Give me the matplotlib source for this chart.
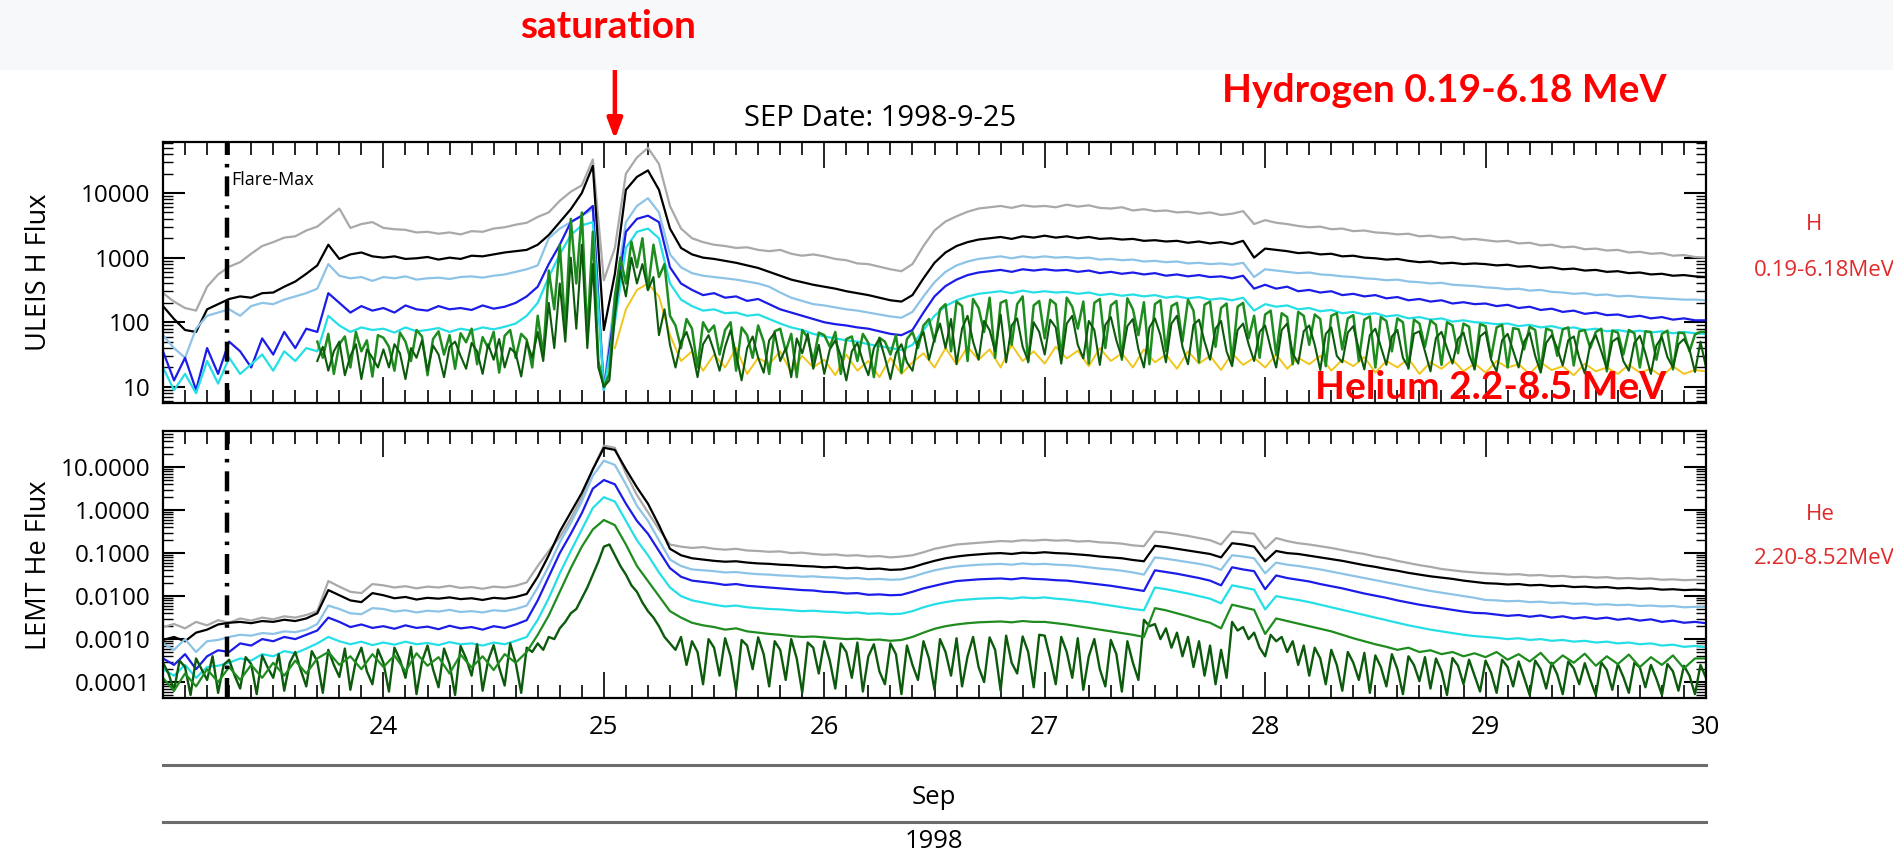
import numpy as np
import matplotlib
matplotlib.use("Agg")
import matplotlib.pyplot as plt
from matplotlib.lines import Line2D
from matplotlib.patches import Rectangle
from matplotlib.ticker import FixedLocator, FuncFormatter, LogLocator, MultipleLocator

# ---- flux channels, log10 values, one string per day (Sep 23 .. Sep 29), last value = Sep 30 00:00 ----
# ULEIS hydrogen
h_grey = [
    "2.45 2.32 2.22 2.18 2.55 2.74 2.86 2.93 3.06 3.18 3.24 3.31 3.33 3.42 3.48 3.62 3.76 3.46 3.52 3.55",
    "3.46 3.44 3.43 3.39 3.40 3.37 3.39 3.36 3.41 3.40 3.45 3.47 3.51 3.54 3.63 3.70 3.88 4.02 4.12 4.52",
    "2.65 3.15 4.30 4.55 4.70 4.45 3.80 3.45 3.30 3.24 3.20 3.18 3.15 3.16 3.12 3.10 3.12 3.06 3.03 3.05",
    "3.02 2.98 2.96 2.91 2.90 2.86 2.82 2.79 2.90 3.18 3.42 3.56 3.64 3.71 3.76 3.78 3.80 3.77 3.81 3.79",
    "3.80 3.78 3.82 3.79 3.81 3.77 3.76 3.78 3.73 3.75 3.72 3.73 3.70 3.71 3.68 3.70 3.66 3.68 3.72 3.52",
    "3.58 3.54 3.52 3.49 3.47 3.48 3.44 3.45 3.41 3.42 3.39 3.38 3.36 3.37 3.33 3.34 3.31 3.32 3.28 3.29",
    "3.27 3.25 3.26 3.22 3.23 3.19 3.20 3.16 3.17 3.13 3.14 3.11 3.12 3.08 3.09 3.06 3.07 3.03 3.04 3.01",
]
h_grey_end = 3.00
h_black = [
    "2.25 2.05 1.88 1.85 2.20 2.28 2.36 2.40 2.38 2.45 2.46 2.55 2.63 2.75 2.88 3.20 2.98 3.05 3.08 3.02",
    "3.00 3.02 2.98 2.99 3.01 2.97 3.00 2.98 3.03 3.02 3.05 3.08 3.10 3.12 3.20 3.35 3.55 3.75 4.00 4.42",
    "1.88 2.75 4.05 4.25 4.35 4.05 3.45 3.15 3.05 3.00 2.98 2.95 2.92 2.88 2.84 2.78 2.72 2.66 2.62 2.58",
    "2.55 2.52 2.48 2.45 2.42 2.38 2.34 2.32 2.42 2.68 2.92 3.08 3.18 3.24 3.28 3.30 3.32 3.29 3.33 3.31",
    "3.34 3.31 3.33 3.30 3.32 3.29 3.30 3.28 3.29 3.26 3.27 3.25 3.26 3.23 3.25 3.22 3.24 3.21 3.26 3.00",
    "3.14 3.12 3.10 3.07 3.08 3.05 3.06 3.02 3.03 3.00 2.99 2.97 2.98 2.95 2.93 2.94 2.91 2.92 2.90 2.91",
    "2.90 2.88 2.89 2.86 2.87 2.84 2.85 2.82 2.83 2.80 2.81 2.78 2.79 2.76 2.77 2.74 2.75 2.72 2.73 2.71",
]
h_black_end = 2.70
h_lightblue = [
    "1.80 1.60 1.45 1.90 2.10 2.15 2.20 2.10 2.25 2.30 2.28 2.35 2.40 2.45 2.52 2.90 2.72 2.68 2.70 2.64",
    "2.70 2.68 2.71 2.66 2.68 2.69 2.67 2.70 2.71 2.69 2.72 2.74 2.78 2.82 2.88 3.30 3.45 3.55 3.65 3.75",
    "1.00 2.40 3.55 3.80 3.92 3.70 3.05 2.85 2.76 2.72 2.70 2.68 2.66 2.63 2.60 2.55 2.46 2.38 2.33 2.28",
    "2.26 2.23 2.20 2.18 2.15 2.12 2.09 2.07 2.16 2.40 2.62 2.78 2.88 2.94 2.98 3.00 3.02 2.99 3.02 3.00",
    "3.02 3.00 3.01 2.99 3.00 2.97 2.98 2.96 2.97 2.94 2.95 2.93 2.94 2.91 2.92 2.90 2.91 2.89 2.92 2.70",
    "2.82 2.80 2.78 2.76 2.77 2.74 2.73 2.71 2.70 2.68 2.67 2.65 2.66 2.63 2.62 2.60 2.61 2.58 2.57 2.56",
    "2.54 2.53 2.51 2.52 2.49 2.50 2.47 2.46 2.44 2.45 2.42 2.43 2.40 2.41 2.39 2.38 2.37 2.36 2.35 2.35",
]
h_lightblue_end = 2.34
h_blue = [
    "1.55 1.10 1.45 0.95 1.60 1.20 1.70 1.55 1.30 1.75 1.50 1.85 1.60 1.90 1.85 2.45 2.30 2.15 2.25 2.18",
    "2.22 2.15 2.26 2.20 2.18 2.25 2.20 2.22 2.19 2.26 2.21 2.24 2.30 2.40 2.55 2.90 3.20 3.55 3.65 3.80",
    "0.95 2.20 3.40 3.60 3.65 3.55 2.85 2.60 2.50 2.42 2.45 2.38 2.40 2.33 2.36 2.28 2.20 2.15 2.10 2.05",
    "2.00 1.97 1.95 1.92 1.90 1.86 1.82 1.80 1.88 2.15 2.40 2.56 2.66 2.73 2.77 2.79 2.81 2.78 2.82 2.80",
    "2.82 2.80 2.81 2.78 2.80 2.76 2.78 2.75 2.77 2.74 2.76 2.72 2.74 2.71 2.73 2.70 2.71 2.68 2.72 2.52",
    "2.58 2.52 2.55 2.48 2.50 2.46 2.48 2.42 2.44 2.40 2.42 2.37 2.39 2.34 2.36 2.32 2.34 2.29 2.31 2.28",
    "2.29 2.25 2.27 2.22 2.24 2.19 2.21 2.16 2.18 2.13 2.15 2.11 2.12 2.08 2.10 2.06 2.08 2.04 2.06 2.03",
]
h_blue_end = 2.03
h_cyan = [
    "1.30 0.95 1.20 0.90 1.40 1.05 1.45 1.20 1.35 1.50 1.25 1.55 1.40 1.60 1.55 2.10 1.95 1.85 1.92 1.88",
    "1.90 1.84 1.92 1.86 1.88 1.91 1.85 1.90 1.87 1.92 1.89 1.93 1.98 2.10 2.30 2.70 3.05 3.35 3.50 3.55",
    "0.95 2.00 3.15 3.40 3.45 3.30 2.60 2.35 2.25 2.18 2.20 2.14 2.15 2.10 2.12 2.05 1.98 1.92 1.88 1.82",
    "1.78 1.75 1.72 1.70 1.66 1.63 1.60 1.57 1.65 1.88 2.10 2.25 2.34 2.40 2.44 2.46 2.48 2.45 2.49 2.46",
    "2.48 2.46 2.47 2.44 2.46 2.42 2.44 2.41 2.43 2.40 2.42 2.38 2.40 2.37 2.39 2.35 2.37 2.34 2.38 2.18",
    "2.28 2.24 2.26 2.20 2.22 2.17 2.19 2.14 2.16 2.12 2.14 2.09 2.11 2.06 2.08 2.04 2.06 2.01 2.03 2.00",
    "1.99 1.97 1.98 1.94 1.96 1.92 1.94 1.90 1.92 1.88 1.90 1.86 1.88 1.85 1.87 1.84 1.86 1.83 1.85 1.83",
]
h_cyan_end = 1.82
h_green = [
    "nan nan nan nan nan nan nan nan nan nan nan nan nan nan nan nan nan nan nan nan "
    "nan nan nan nan nan nan nan nan 1.70 1.45 1.82 1.20 1.66 1.78 1.30 1.85 1.55 1.72 1.16 1.80",
    "1.76 1.62 1.25 1.84 1.70 1.40 1.88 1.78 1.18 1.74 1.86 1.50 1.80 1.28 1.83 1.69 1.90 1.35 1.77 1.60 "
    "1.85 1.22 1.79 1.88 1.45 1.82 1.73 1.30 2.10 1.50 2.80 2.20 3.20 1.90 3.60 2.60 3.70 1.80 3.40 1.40",
    "1.00 1.20 2.40 3.00 2.60 3.25 2.85 3.30 2.50 3.20 2.70 2.90 2.10 1.95 1.60 2.05 1.90 1.30 2.00 1.85 "
    "1.95 1.50 1.88 2.00 1.25 1.92 1.80 1.45 1.95 1.70 1.20 1.86 1.90 1.55 1.82 1.15 1.88 1.76 1.40 1.84",
    "1.80 1.62 1.85 1.20 1.74 1.78 1.40 1.82 1.68 1.15 1.76 1.70 1.50 1.80 1.22 1.74 1.85 1.60 1.95 2.05 "
    "1.70 2.20 2.28 1.55 2.32 2.25 1.40 2.36 2.22 1.85 2.38 1.45 2.30 2.34 1.65 2.28 2.40 1.38 2.26 2.33",
    "1.75 2.35 2.28 1.45 2.38 2.24 1.90 2.32 1.36 2.30 2.36 1.60 2.26 2.33 1.42 2.37 2.20 1.80 2.31 1.35 "
    "2.28 2.34 1.55 2.25 2.30 1.70 2.35 2.18 1.38 2.27 2.32 1.62 2.22 2.29 1.40 2.24 2.30 1.75 2.10 1.45",
    "2.12 2.18 1.50 2.14 2.08 1.35 2.16 2.10 1.65 2.12 2.05 1.32 2.10 2.14 1.58 2.06 2.11 1.40 2.04 2.09 "
    "1.30 2.08 2.02 1.55 2.06 2.00 1.28 2.04 1.98 1.62 2.03 1.96 1.34 2.00 1.95 1.52 1.98 1.93 1.27 1.97",
    "1.94 1.45 1.92 1.96 1.30 1.91 1.89 1.58 1.93 1.88 1.26 1.90 1.87 1.48 1.89 1.92 1.33 1.86 1.88 1.60 "
    "1.85 1.90 1.24 1.87 1.84 1.50 1.88 1.83 1.30 1.86 1.85 1.42 1.82 1.87 1.27 1.84 1.83 1.55 1.81 1.85",
]
h_green_end = 1.85
h_dkgreen = [
    "nan nan nan nan nan nan nan nan nan nan nan nan nan nan nan nan nan nan nan nan "
    "nan nan nan nan nan nan nan nan 1.40 1.62 1.25 1.55 1.70 1.18 1.48 1.66 1.12 1.58 1.45 1.30",
    "1.58 1.30 1.66 1.52 1.12 1.60 1.45 1.72 1.25 1.64 1.50 1.15 1.62 1.70 1.48 1.28 1.68 1.55 1.20 1.66 "
    "1.42 1.74 1.30 1.60 1.52 1.16 1.70 1.45 1.85 1.40 2.30 1.60 2.60 1.70 3.00 1.90 3.20 1.60 2.90 1.30",
    "1.00 1.10 2.10 2.80 2.40 3.00 2.60 2.90 2.50 2.70 1.80 2.20 1.65 1.30 1.70 1.85 1.58 1.15 1.66 1.80 "
    "1.55 1.25 1.62 1.88 1.50 1.10 1.60 1.78 1.45 1.22 1.72 1.84 1.40 1.60 1.15 1.75 1.52 1.82 1.28 1.65",
    "1.20 1.58 1.72 1.48 1.10 1.55 1.68 1.40 1.18 1.60 1.75 1.45 1.12 1.52 1.66 1.38 1.25 1.70 1.85 1.42 "
    "1.75 1.98 1.60 2.05 1.35 1.90 2.10 1.70 1.42 2.02 1.88 1.55 2.12 1.38 1.95 2.06 1.62 1.40 2.00 1.85",
    "1.50 2.04 1.92 1.36 1.98 2.10 1.65 1.44 2.02 1.88 1.34 1.96 2.08 1.72 1.45 1.94 2.05 1.58 1.30 1.92 "
    "2.06 1.80 1.38 1.98 2.10 1.62 1.35 1.96 2.04 1.70 1.42 1.90 2.02 1.55 1.32 1.88 1.98 1.66 1.40 1.85",
    "1.95 1.60 1.30 1.88 1.98 1.52 1.36 1.86 1.95 1.65 1.26 1.82 1.92 1.48 1.38 1.84 1.94 1.58 1.27 1.80 "
    "1.90 1.62 1.34 1.78 1.88 1.45 1.30 1.82 1.86 1.55 1.24 1.76 1.85 1.60 1.36 1.74 1.84 1.50 1.28 1.78",
    "1.85 1.42 1.24 1.72 1.82 1.56 1.30 1.70 1.84 1.48 1.22 1.68 1.80 1.60 1.33 1.72 1.78 1.45 1.21 1.66 "
    "1.80 1.55 1.28 1.70 1.76 1.40 1.25 1.68 1.79 1.52 1.20 1.64 1.77 1.46 1.30 1.66 1.74 1.58 1.23 1.70",
]
h_dkgreen_end = 1.30
h_yellow = [
    "nan nan nan nan nan nan nan nan nan nan nan nan nan nan nan nan nan nan nan nan",
    "nan nan nan nan nan nan nan nan nan nan nan nan nan nan nan nan nan nan nan nan",
    "nan 1.60 2.20 2.50 2.60 2.40 1.80 1.40 1.55 1.25 1.50 1.30 1.60 1.20 1.45 1.35 1.55 1.22 1.48 1.30",
    "1.42 1.18 1.50 1.25 1.40 1.15 1.45 1.20 1.38 1.52 1.30 1.60 1.35 1.62 1.42 1.58 1.30 1.65 1.40 1.55",
    "1.36 1.62 1.44 1.56 1.32 1.60 1.40 1.52 1.30 1.58 1.38 1.50 1.28 1.55 1.36 1.48 1.26 1.52 1.34 1.45",
    "1.30 1.50 1.28 1.45 1.35 1.48 1.25 1.42 1.32 1.46 1.22 1.40 1.30 1.44 1.20 1.38 1.28 1.42 1.24 1.36",
    "1.22 1.40 1.30 1.35 1.20 1.38 1.26 1.32 1.18 1.36 1.24 1.30 1.20 1.34 1.22 1.28 1.16 1.32 1.20 1.26",
]
h_yellow_end = 1.24

# LEMT helium
he_grey = [
    "-2.72 -2.65 -2.75 -2.60 -2.68 -2.56 -2.62 -2.52 -2.57 -2.50 -2.54 -2.47 -2.50 -2.44 -2.35 -1.65 -1.78 -1.90 -1.93 -1.72",
    "-1.75 -1.80 -1.77 -1.82 -1.78 -1.80 -1.76 -1.81 -1.79 -1.83 -1.78 -1.80 -1.76 -1.68 -1.30 -0.95 -0.63 -0.20 0.30 0.95",
    "1.50 1.45 0.85 0.35 -0.05 -0.45 -0.80 -0.85 -0.88 -0.86 -0.90 -0.92 -0.90 -0.94 -0.95 -0.97 -0.96 -1.00 -0.99 -1.02",
    "-1.04 -1.03 -1.06 -1.05 -1.08 -1.07 -1.10 -1.08 -1.05 -0.98 -0.90 -0.85 -0.80 -0.78 -0.76 -0.74 -0.72 -0.73 -0.70 -0.71",
    "-0.69 -0.71 -0.70 -0.73 -0.72 -0.75 -0.76 -0.78 -0.82 -0.84 -0.50 -0.52 -0.56 -0.60 -0.65 -0.70 -0.80 -0.50 -0.52 -0.55",
    "-0.90 -0.65 -0.72 -0.77 -0.80 -0.84 -0.88 -0.93 -0.98 -1.02 -1.08 -1.12 -1.18 -1.23 -1.28 -1.32 -1.37 -1.40 -1.43 -1.45",
    "-1.47 -1.48 -1.50 -1.49 -1.52 -1.51 -1.54 -1.53 -1.56 -1.55 -1.57 -1.56 -1.59 -1.58 -1.60 -1.59 -1.62 -1.61 -1.63 -1.62",
]
he_grey_end = -1.63
he_black = [
    "-3.02 -2.95 -3.05 -2.85 -2.78 -2.66 -2.62 -2.60 -2.63 -2.58 -2.60 -2.55 -2.58 -2.52 -2.40 -1.86 -1.98 -2.10 -2.14 -1.93",
    "-1.98 -2.05 -2.02 -2.08 -2.04 -2.06 -2.03 -2.07 -2.05 -2.09 -2.04 -2.06 -2.02 -1.95 -1.55 -1.05 -0.50 -0.05 0.40 0.95",
    "1.45 1.40 0.95 0.53 0.15 -0.35 -0.90 -1.05 -1.12 -1.15 -1.18 -1.20 -1.19 -1.22 -1.24 -1.25 -1.27 -1.28 -1.30 -1.31",
    "-1.33 -1.32 -1.35 -1.34 -1.37 -1.36 -1.39 -1.38 -1.33 -1.25 -1.18 -1.12 -1.08 -1.05 -1.03 -1.01 -1.00 -1.02 -0.99 -1.00",
    "-0.98 -1.00 -1.01 -1.03 -1.05 -1.08 -1.10 -1.12 -1.16 -1.19 -0.83 -0.86 -0.90 -0.94 -0.98 -1.02 -1.10 -0.77 -0.80 -0.85",
    "-1.19 -0.95 -1.00 -1.02 -1.06 -1.10 -1.14 -1.18 -1.23 -1.28 -1.32 -1.37 -1.41 -1.46 -1.50 -1.54 -1.57 -1.60 -1.64 -1.67",
    "-1.70 -1.71 -1.73 -1.72 -1.75 -1.74 -1.77 -1.76 -1.79 -1.78 -1.80 -1.79 -1.82 -1.81 -1.83 -1.82 -1.85 -1.84 -1.86 -1.85",
]
he_black_end = -1.86
he_lightblue = [
    "-3.10 -3.25 -3.00 -3.30 -3.05 -3.02 -2.95 -2.90 -2.92 -2.86 -2.88 -2.82 -2.84 -2.78 -2.65 -2.22 -2.30 -2.40 -2.42 -2.28",
    "-2.30 -2.36 -2.33 -2.38 -2.34 -2.36 -2.32 -2.37 -2.35 -2.38 -2.33 -2.35 -2.30 -2.22 -1.80 -1.30 -0.75 -0.30 0.20 0.80",
    "1.15 1.05 0.60 0.10 -0.25 -0.70 -1.15 -1.30 -1.38 -1.40 -1.42 -1.45 -1.44 -1.47 -1.49 -1.50 -1.52 -1.53 -1.55 -1.54",
    "-1.56 -1.57 -1.59 -1.58 -1.61 -1.60 -1.62 -1.61 -1.55 -1.47 -1.40 -1.35 -1.31 -1.29 -1.27 -1.26 -1.25 -1.27 -1.24 -1.26",
    "-1.25 -1.27 -1.28 -1.30 -1.33 -1.36 -1.38 -1.41 -1.45 -1.50 -1.10 -1.13 -1.17 -1.21 -1.25 -1.30 -1.39 -1.05 -1.08 -1.12",
    "-1.47 -1.22 -1.27 -1.30 -1.34 -1.38 -1.43 -1.48 -1.53 -1.58 -1.63 -1.68 -1.73 -1.78 -1.83 -1.88 -1.92 -1.96 -2.00 -2.04",
    "-2.09 -2.10 -2.12 -2.11 -2.14 -2.13 -2.16 -2.15 -2.18 -2.17 -2.20 -2.19 -2.21 -2.20 -2.23 -2.22 -2.24 -2.23 -2.26 -2.25",
]
he_lightblue_end = -2.26
he_blue = [
    "-3.45 -3.60 -3.35 -3.70 -3.40 -3.26 -3.30 -3.10 -3.15 -3.00 -3.05 -2.95 -3.00 -2.90 -2.80 -2.50 -2.60 -2.72 -2.66 -2.74",
    "-2.70 -2.76 -2.68 -2.74 -2.71 -2.77 -2.69 -2.75 -2.72 -2.78 -2.70 -2.74 -2.66 -2.56 -2.10 -1.55 -1.00 -0.55 -0.07 0.50",
    "0.70 0.60 0.15 -0.25 -0.55 -0.95 -1.35 -1.55 -1.64 -1.67 -1.70 -1.74 -1.72 -1.76 -1.78 -1.80 -1.82 -1.84 -1.86 -1.87",
    "-1.90 -1.91 -1.94 -1.93 -1.97 -1.96 -1.98 -1.97 -1.90 -1.82 -1.76 -1.70 -1.65 -1.63 -1.61 -1.60 -1.59 -1.61 -1.58 -1.60",
    "-1.61 -1.63 -1.64 -1.67 -1.70 -1.73 -1.76 -1.80 -1.84 -1.88 -1.40 -1.44 -1.48 -1.53 -1.58 -1.64 -1.75 -1.33 -1.38 -1.42",
    "-1.84 -1.52 -1.58 -1.62 -1.66 -1.72 -1.77 -1.82 -1.88 -1.94 -1.99 -2.04 -2.10 -2.15 -2.20 -2.24 -2.28 -2.32 -2.36 -2.39",
    "-2.40 -2.43 -2.46 -2.44 -2.48 -2.45 -2.50 -2.47 -2.52 -2.49 -2.53 -2.50 -2.55 -2.52 -2.57 -2.54 -2.60 -2.57 -2.62 -2.60",
]
he_blue_end = -2.63
he_cyan = [
    "-3.70 -3.85 -3.60 -3.90 -3.65 -3.62 -3.55 -3.45 -3.50 -3.35 -3.40 -3.28 -3.33 -3.22 -3.10 -2.95 -3.05 -3.12 -3.06 -3.14",
    "-3.08 -3.13 -3.06 -3.12 -3.09 -3.14 -3.07 -3.12 -3.10 -3.15 -3.08 -3.12 -3.04 -2.95 -2.55 -2.05 -1.47 -0.95 -0.45 0.05",
    "0.30 0.20 -0.25 -0.70 -1.05 -1.45 -1.80 -2.00 -2.10 -2.15 -2.20 -2.24 -2.22 -2.26 -2.28 -2.30 -2.31 -2.33 -2.35 -2.34",
    "-2.36 -2.37 -2.39 -2.38 -2.41 -2.40 -2.42 -2.41 -2.35 -2.26 -2.19 -2.14 -2.10 -2.08 -2.06 -2.05 -2.04 -2.06 -2.03 -2.05",
    "-2.03 -2.06 -2.08 -2.11 -2.14 -2.18 -2.22 -2.26 -2.30 -2.33 -1.80 -1.84 -1.89 -1.94 -2.00 -2.06 -2.17 -1.75 -1.80 -1.85",
    "-2.31 -2.00 -2.05 -2.09 -2.14 -2.20 -2.26 -2.32 -2.38 -2.44 -2.50 -2.56 -2.62 -2.68 -2.73 -2.78 -2.82 -2.86 -2.90 -2.93",
    "-2.95 -2.97 -3.00 -2.98 -3.02 -3.00 -3.04 -3.02 -3.06 -3.04 -3.08 -3.06 -3.10 -3.08 -3.12 -3.10 -3.15 -3.13 -3.18 -3.16",
]
he_cyan_end = -3.19
he_green = [
    "-3.90 -4.20 -3.80 -4.10 -3.70 -4.00 -3.65 -3.95 -3.60 -3.90 -3.55 -3.85 -3.50 -3.80 -3.45 -3.30 -3.60 -3.40 -3.70 -3.35",
    "-3.65 -3.38 -3.75 -3.33 -3.62 -3.42 -3.80 -3.36 -3.66 -3.40 -3.72 -3.35 -3.55 -3.30 -2.90 -2.45 -1.90 -1.35 -0.85 -0.45",
    "-0.23 -0.35 -0.80 -1.30 -1.65 -2.00 -2.35 -2.50 -2.62 -2.68 -2.72 -2.78 -2.75 -2.82 -2.85 -2.88 -2.90 -2.93 -2.95 -2.94",
    "-2.96 -2.98 -3.00 -2.99 -3.02 -3.01 -3.04 -3.02 -2.95 -2.85 -2.76 -2.70 -2.66 -2.63 -2.61 -2.60 -2.59 -2.61 -2.58 -2.60",
    "-2.60 -2.63 -2.66 -2.70 -2.74 -2.78 -2.82 -2.86 -2.90 -2.95 -2.28 -2.33 -2.40 -2.47 -2.55 -2.62 -2.75 -2.20 -2.26 -2.32",
    "-2.88 -2.52 -2.58 -2.64 -2.70 -2.76 -2.82 -2.90 -2.98 -3.05 -3.12 -3.18 -3.25 -3.20 -3.30 -3.26 -3.35 -3.30 -3.40 -3.33",
    "-3.42 -3.30 -3.48 -3.35 -3.52 -3.32 -3.60 -3.38 -3.55 -3.34 -3.62 -3.40 -3.58 -3.36 -3.65 -3.42 -3.60 -3.38 -3.68 -3.45",
]
he_green_end = -3.45
he_dkgreen = [
    "-3.55 -3.80 -4.20 -3.50 -3.65 -4.30 -3.45 -3.70 -3.95 -3.40 -4.25 -3.60 -3.48 -3.85 -4.15 -3.42 -3.58 -4.28 -3.38 -3.66 "
    "-3.90 -3.35 -4.20 -3.55 -3.30 -3.72 -4.10 -3.28 -3.52 -4.25 -3.25 -3.60 -3.88 -3.22 -4.18 -3.50 -3.20 -3.75 -4.05 -3.24",
    "-3.55 -4.22 -3.20 -3.48 -3.90 -3.18 -4.28 -3.52 -3.15 -3.70 -4.12 -3.22 -3.58 -4.30 -3.16 -3.45 -3.85 -3.12 -4.20 -3.50 "
    "-3.14 -3.66 -4.08 -3.10 -3.55 -4.25 -3.20 -3.30 -3.10 -3.25 -2.95 -3.00 -2.75 -2.60 -2.40 -2.30 -2.05 -1.80 -1.50 -1.20",
    "-0.85 -0.80 -1.05 -1.30 -1.50 -1.75 -1.90 -2.15 -2.35 -2.50 -2.70 -2.95 -3.10 -3.25 -2.95 -3.60 -3.05 -3.30 -4.05 -3.00 "
    "-3.20 -3.85 -2.98 -3.40 -4.20 -3.02 -3.15 -3.70 -2.96 -3.35 -4.10 -3.05 -3.25 -3.95 -3.00 -3.45 -4.25 -3.08 -3.20 -3.80",
    "-3.05 -3.50 -4.15 -3.10 -3.30 -3.90 -3.08 -4.22 -3.40 -3.12 -3.75 -4.05 -3.10 -3.35 -4.28 -3.15 -3.60 -3.95 -3.05 -3.45 "
    "-4.18 -3.00 -3.30 -3.85 -2.98 -4.10 -3.40 -2.95 -3.65 -4.00 -2.96 -3.25 -4.20 -2.92 -3.55 -3.80 -2.94 -3.30 -4.12 -2.90",
    "-2.92 -3.45 -4.05 -2.95 -3.30 -3.90 -2.98 -4.18 -3.40 -3.00 -3.70 -4.10 -3.02 -3.35 -4.22 -3.05 -3.55 -3.95 -2.55 -2.70 "
    "-2.65 -3.00 -2.75 -3.20 -2.85 -3.40 -2.95 -3.65 -3.05 -3.85 -3.15 -4.05 -3.25 -3.90 -2.60 -2.80 -2.72 -3.00 -2.85 -3.20",
    "-3.40 -2.90 -3.05 -2.95 -3.30 -3.05 -3.60 -3.15 -3.85 -3.20 -3.45 -4.05 -3.25 -3.60 -4.20 -3.30 -3.55 -3.95 -3.32 -4.25 "
    "-3.38 -3.65 -4.10 -3.35 -3.70 -4.28 -3.40 -3.60 -3.98 -3.42 -4.15 -3.45 -3.75 -4.30 -3.44 -3.62 -4.05 -3.48 -3.85 -4.22",
    "-3.50 -3.78 -4.25 -3.48 -3.65 -4.10 -3.52 -3.90 -4.30 -3.50 -3.70 -4.15 -3.55 -3.82 -4.28 -3.52 -3.68 -4.05 -3.56 -3.95 "
    "-4.30 -3.54 -3.72 -4.18 -3.58 -3.88 -4.25 -3.55 -3.66 -4.12 -3.60 -3.92 -4.30 -3.58 -3.75 -4.20 -3.62 -3.85 -4.28 -3.60",
]
he_dkgreen_end = -3.90

first_day = 23
flare_max = 23.29
saturation_day = 25.05
day_ticks = [24, 25, 26, 27, 28, 29, 30]

c_grey = "#a9a9a9"
c_black = "#000000"
c_lblue = "#8cc3e6"
c_blue = "#1c1ce8"
c_cyan = "#25dfe6"
c_green = "#1f8c1f"
c_dkgreen = "#0c5a0c"
c_yellow = "#f0c61c"


def expand(rows, last):
    # each row holds one day of evenly spaced samples
    t, v = [], []
    for i, row in enumerate(rows):
        vals = [float(s) for s in row.split()]
        n = len(vals)
        t += [first_day + i + k / n for k in range(n)]
        v += vals
    t.append(first_day + len(rows))
    v.append(last)
    return np.array(t), 10.0 ** np.array(v)


plt.rcParams["font.family"] = ["Open Sans", "DejaVu Sans"]

W, H = 1893, 855
fig = plt.figure(figsize=(W / 100, H / 100), dpi=100)
fig.patch.set_facecolor("white")

# faint slide band along the top
fig.patches.append(Rectangle((0, 1 - 70 / H), 1, 70 / H, transform=fig.transFigure,
                             facecolor="#f6f8fa", edgecolor="none", zorder=0))

ax1 = fig.add_axes([163 / W, 1 - 403 / H, 1543 / W, 261 / H])
ax2 = fig.add_axes([163 / W, 1 - 698 / H, 1543 / W, 267 / H])

lw = 1.6
top_series = [
    (h_yellow, h_yellow_end, c_yellow, 1.4),
    (h_grey, h_grey_end, c_grey, lw),
    (h_black, h_black_end, c_black, lw),
    (h_lightblue, h_lightblue_end, c_lblue, lw),
    (h_blue, h_blue_end, c_blue, lw),
    (h_cyan, h_cyan_end, c_cyan, lw),
    (h_green, h_green_end, c_green, 1.8),
    (h_dkgreen, h_dkgreen_end, c_dkgreen, 1.5),
]
for rows, last, col, w in top_series:
    t, y = expand(rows, last)
    ax1.plot(t, y, color=col, lw=w)

bot_series = [
    (he_grey, he_grey_end, c_grey, lw),
    (he_black, he_black_end, c_black, lw),
    (he_lightblue, he_lightblue_end, c_lblue, lw),
    (he_blue, he_blue_end, c_blue, lw),
    (he_cyan, he_cyan_end, c_cyan, lw),
    (he_dkgreen, he_dkgreen_end, c_dkgreen, 1.7),
    (he_green, he_green_end, c_green, lw),
]
for rows, last, col, w in bot_series:
    t, y = expand(rows, last)
    ax2.plot(t, y, color=col, lw=w)

ax1.set_ylim(10 ** 0.75, 10 ** 4.79)
ax2.set_ylim(10 ** -4.37, 10 ** 1.84)

for ax in (ax1, ax2):
    ax.set_yscale("log")
    ax.set_xlim(23, 30)
    ax.axvline(flare_max, color="black", lw=3.2, dashes=(4.5, 2.0, 0.8, 2.0), zorder=5)
    for sp in ax.spines.values():
        sp.set_linewidth(1.6)
    ax.xaxis.set_major_locator(FixedLocator(day_ticks))
    ax.xaxis.set_minor_locator(MultipleLocator(0.1))
    ax.yaxis.set_minor_locator(LogLocator(base=10, subs=np.arange(2, 10), numticks=20))
    ax.tick_params(axis="x", which="major", direction="in", length=19, width=1.2,
                   top=True, bottom=True, labelsize=18.5, pad=12)
    ax.tick_params(axis="x", which="minor", direction="in", length=9.5, width=1.2,
                   top=True, bottom=True)
    ax.tick_params(axis="y", which="major", direction="in", length=16, width=1.5,
                   left=True, right=True, labelsize=17.5, pad=9)
    ax.tick_params(axis="y", which="minor", direction="in", length=7, width=1.0,
                   left=True, right=True)

ax1.tick_params(axis="x", labelbottom=False)
ax1.yaxis.set_major_locator(FixedLocator([10, 100, 1000, 10000]))
ax1.yaxis.set_major_formatter(FuncFormatter(lambda v, _: f"{v:.0f}"))
ax2.yaxis.set_major_locator(FixedLocator([1e-4, 1e-3, 1e-2, 1e-1, 1, 10]))
ax2.yaxis.set_major_formatter(FuncFormatter(lambda v, _: f"{v:.4f}"))
ax2.set_xticklabels([str(d) for d in day_ticks])

fig.text(39 / W, 1 - 272 / H, "ULEIS H Flux", fontsize=19.5, rotation=90, ha="center", va="center")
fig.text(39 / W, 1 - 565 / H, "LEMT He Flux", fontsize=19.5, rotation=90, ha="center", va="center")

ax1.text(flare_max + 0.02, 10 ** 4.2, "Flare-Max", fontsize=13, va="center", ha="left")

fig.text(880 / W, 1 - 118 / H, "SEP Date: 1998-9-25", fontsize=21, ha="center", va="center")

# month / year rows under the time axis
for yy in (765, 822):
    fig.add_artist(Line2D([163 / W, 1706 / W], [1 - yy / H] * 2, transform=fig.transFigure,
                          color="#6c6c6c", lw=2.2))
fig.text(934 / W, 1 - 797 / H, "Sep", fontsize=18.5, ha="center", va="center")
fig.text(934 / W, 1 - 841 / H, "1998", fontsize=18.5, ha="center", va="center")

# channel labels on the right
red_small = "#e02a2a"
fig.text(1814 / W, 1 - 225 / H, "H", fontsize=16, color=red_small, ha="center", va="center")
fig.text(1824 / W, 1 - 270 / H, "0.19-6.18MeV", fontsize=16, color=red_small, ha="center", va="center")
fig.text(1820 / W, 1 - 514 / H, "He", fontsize=16, color=red_small, ha="center", va="center")
fig.text(1824 / W, 1 - 559 / H, "2.20-8.52MeV", fontsize=16, color=red_small, ha="center", va="center")

# bold red annotations
red = "#ff0000"
fig.text(608 / W, 1 - 27 / H, "saturation", fontsize=28, color=red, weight="bold",
         family=["Lato", "DejaVu Sans"], ha="center", va="center")
fig.text(1444 / W, 1 - 90 / H, "Hydrogen 0.19-6.18 MeV", fontsize=28, color=red, weight="bold",
         family=["Lato", "DejaVu Sans"], ha="center", va="center")
fig.text(1491 / W, 1 - 387 / H, "Helium 2.2-8.5 MeV", fontsize=28, color=red, weight="bold",
         family=["Lato", "DejaVu Sans"], ha="center", va="center", zorder=10)
ax1.annotate("", xy=(saturation_day, 1.0), xycoords=("data", "axes fraction"),
             xytext=(saturation_day, 1 + (142 - 45) / 261), textcoords=("data", "axes fraction"),
             arrowprops=dict(arrowstyle="-|>,head_length=1.2,head_width=0.45", color=red, lw=3.2),
             annotation_clip=False)

fig.savefig("out.png", dpi=100)
